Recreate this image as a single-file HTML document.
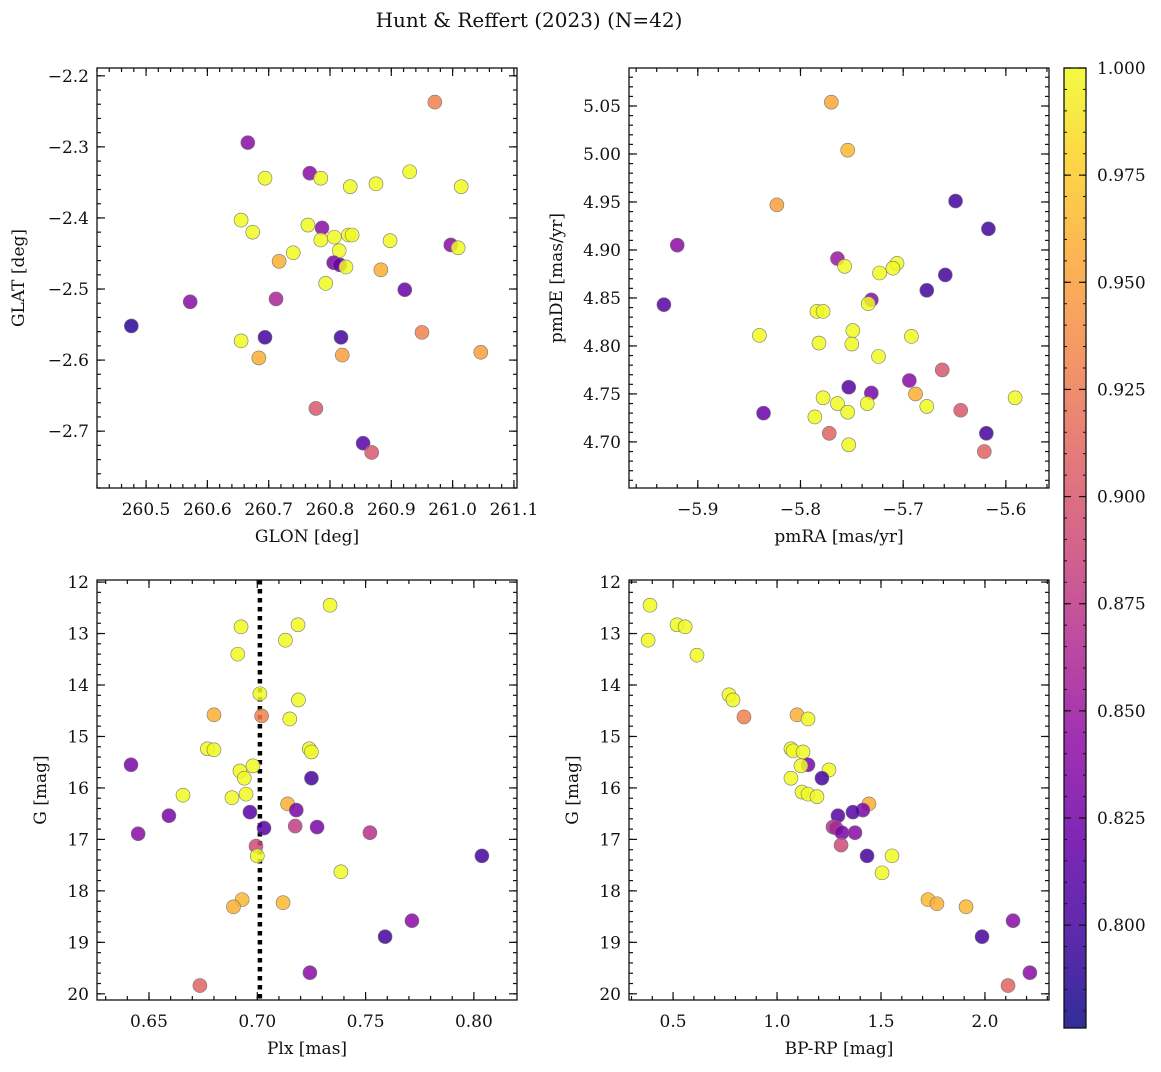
<!DOCTYPE html>
<html><head><meta charset="utf-8">
<style>
html,body{margin:0;padding:0;background:#fff;}
svg text{font-family:"DejaVu Serif","Liberation Serif",serif;fill:#111;}
</style></head>
<body>
<svg id="fig" width="1161" height="1067" viewBox="0 0 1161 1067" xmlns="http://www.w3.org/2000/svg">
<text x="529" y="27" font-size="20" text-anchor="middle">Hunt &amp; Reffert (2023) (N=42)</text>
</svg>
<script>
// ---- data ----
const p1Glon=[260.971,260.666,260.694,260.767,260.785,260.833,260.875,260.930,261.014,260.655,260.674,260.764,260.787,260.785,260.740,260.717,260.807,260.830,260.836,260.815,260.806,260.816,260.826,260.898,260.883,260.793,260.997,261.009,260.922,260.572,260.712,260.476,260.655,260.694,260.818,260.684,260.820,260.950,261.046,260.777,260.854,260.868];
const p1Glat=[-2.237,-2.294,-2.344,-2.337,-2.344,-2.356,-2.352,-2.335,-2.356,-2.403,-2.420,-2.410,-2.414,-2.431,-2.449,-2.461,-2.427,-2.424,-2.424,-2.446,-2.463,-2.466,-2.469,-2.432,-2.473,-2.492,-2.438,-2.442,-2.501,-2.518,-2.514,-2.552,-2.573,-2.568,-2.568,-2.597,-2.593,-2.561,-2.589,-2.668,-2.717,-2.730];
const p1Prob=[0.93,0.84,1,0.84,1,1,1,1,1,1,1,1,0.84,1,1,0.96,1,1,1,1,0.83,0.82,1,1,0.96,1,0.84,1,0.82,0.84,0.86,0.79,1,0.80,0.80,0.96,0.95,0.93,0.95,0.90,0.81,0.90];

const p2PmRA=[-5.770,-5.754,-5.823,-5.920,-5.649,-5.617,-5.764,-5.757,-5.706,-5.710,-5.723,-5.659,-5.933,-5.731,-5.734,-5.677,-5.784,-5.778,-5.840,-5.749,-5.692,-5.782,-5.750,-5.724,-5.662,-5.694,-5.753,-5.731,-5.688,-5.778,-5.764,-5.735,-5.677,-5.591,-5.836,-5.786,-5.754,-5.644,-5.772,-5.753,-5.619,-5.621];
const p2PmDE=[5.054,5.004,4.947,4.905,4.951,4.922,4.891,4.883,4.886,4.881,4.876,4.874,4.843,4.848,4.844,4.858,4.836,4.836,4.811,4.816,4.810,4.803,4.802,4.789,4.775,4.764,4.757,4.751,4.750,4.746,4.740,4.740,4.737,4.746,4.730,4.726,4.731,4.733,4.709,4.697,4.709,4.690];
const p2Prob=[0.955,0.965,0.95,0.84,0.80,0.80,0.85,1,1,1,1,0.80,0.81,0.84,1,0.80,1,1,1,1,1,1,1,1,0.90,0.84,0.81,0.83,0.96,1,1,1,1,1,0.82,1,1,0.90,0.91,1,0.80,0.91];

const p3Plx=[0.7336,0.6925,0.7188,0.713,0.691,0.7012,0.719,0.680,0.702,0.715,0.677,0.680,0.724,0.725,0.6417,0.698,0.692,0.694,0.725,0.6657,0.6948,0.6883,0.6592,0.714,0.6966,0.718,0.645,0.7031,0.7175,0.7276,0.752,0.6994,0.700,0.8037,0.7386,0.693,0.689,0.7119,0.7714,0.759,0.7243,0.6735];
const p3G=[12.45,12.87,12.83,13.13,13.40,14.17,14.29,14.58,14.60,14.66,15.24,15.26,15.24,15.30,15.55,15.57,15.67,15.81,15.81,16.14,16.12,16.19,16.54,16.31,16.47,16.43,16.89,16.78,16.74,16.76,16.87,17.13,17.32,17.32,17.63,18.17,18.31,18.23,18.58,18.89,19.59,19.84];
const p3Prob=[1,1,1,1,1,1,1,0.96,0.93,1,1,1,1,1,0.83,1,1,1,0.80,1,1,1,0.83,0.96,0.81,0.83,0.84,0.81,0.88,0.83,0.87,0.89,1,0.80,1,0.965,0.96,0.965,0.84,0.80,0.84,0.91];

const p4BpRp=[0.389,0.380,0.519,0.558,0.615,0.769,0.788,0.841,1.096,1.149,1.067,1.077,1.125,1.149,1.115,1.25,1.067,1.216,1.12,1.149,1.192,1.442,1.413,1.365,1.293,1.269,1.284,1.312,1.375,1.308,1.433,1.553,1.505,1.726,1.769,1.909,2.135,1.986,2.216,2.111];
const p4G=[12.45,13.13,12.83,12.87,13.42,14.19,14.29,14.62,14.58,14.66,15.24,15.28,15.30,15.55,15.57,15.65,15.81,15.81,16.08,16.12,16.17,16.31,16.43,16.47,16.54,16.76,16.78,16.87,16.87,17.11,17.32,17.32,17.65,18.17,18.25,18.31,18.58,18.89,19.59,19.84];
const p4Prob=[1,1,1,1,1,1,1,0.93,0.96,1,1,1,1,0.83,1,1,1,0.80,1,1,1,0.96,0.83,0.81,0.81,0.87,0.86,0.83,0.84,0.89,0.80,1,1,0.965,0.96,0.965,0.84,0.80,0.84,0.91];

const cbTicks=[0.800,0.825,0.850,0.875,0.900,0.925,0.950,0.975,1.000];
const plxLine=0.7012;
const vmin=0.776, vmax=1.0;

// ---- helpers ----
const NS="http://www.w3.org/2000/svg";
const svg=document.getElementById('fig');
function mk(tag,attrs,parent){const e=document.createElementNS(NS,tag);for(const k in attrs)e.setAttribute(k,attrs[k]);(parent||svg).appendChild(e);return e;}
const plasma=[[13,8,135],[65,4,157],[106,0,168],[143,13,164],[177,42,144],[204,71,120],[225,100,98],[242,132,75],[252,166,54],[252,206,37],[240,249,33]];
function cmap(v){let t=(v-vmin)/(vmax-vmin);t=Math.max(0,Math.min(1,t))*10;const i=Math.min(9,Math.floor(t)),f=t-i;const a=plasma[i],b=plasma[i+1];return `rgb(${Math.round(a[0]+(b[0]-a[0])*f)},${Math.round(a[1]+(b[1]-a[1])*f)},${Math.round(a[2]+(b[2]-a[2])*f)})`;}
function fmt(v,d){let s=v.toFixed(d);return s.replace('-','\u2212');}

function panel(o){
  const g=mk('g',{});
  
  
  const sx=v=>o.x0+(v-o.xmin)/(o.xmax-o.xmin)*(o.x1-o.x0);
  const sy=v=>o.yinv? o.y0+(v-o.ymin)/(o.ymax-o.ymin)*(o.y1-o.y0) : o.y1-(v-o.ymin)/(o.ymax-o.ymin)*(o.y1-o.y0);
  const tg=mk('g',{stroke:'#111','stroke-width':1.2},g);
  function xt(v,len){const x=sx(v);if(x<o.x0-0.5||x>o.x1+0.5)return;mk('line',{x1:x,x2:x,y1:o.y1,y2:o.y1-len},tg);mk('line',{x1:x,x2:x,y1:o.y0,y2:o.y0+len},tg);}
  function yt(v,len){const y=sy(v);if(y<o.y0-0.5||y>o.y1+0.5)return;mk('line',{x1:o.x0,x2:o.x0+len,y1:y,y2:y},tg);mk('line',{x1:o.x1,x2:o.x1-len,y1:y,y2:y},tg);}
  const lo=Math.min(o.xmin,o.xmax),hi=Math.max(o.xmin,o.xmax);
  for(let v=Math.ceil(lo/o.xminor-1e-6)*o.xminor;v<=hi;v+=o.xminor)xt(v,4);
  for(let v=Math.ceil(o.ymin/o.yminor-1e-6)*o.yminor;v<=o.ymax;v+=o.yminor)yt(v,4);
  o.xticks.forEach(v=>{xt(v,8);const t=mk('text',{x:sx(v),y:o.y1+27,'font-size':17,'text-anchor':'middle'},g);t.textContent=fmt(v,o.xd);});
  o.yticks.forEach(v=>{yt(v,8);const t=mk('text',{x:o.x0-8,y:sy(v)+6,'font-size':17,'text-anchor':'end'},g);t.textContent=fmt(v,o.yd);});
  const xl=mk('text',{x:(o.x0+o.x1)/2,y:o.y1+54,'font-size':17,'text-anchor':'middle'},g);xl.textContent=o.xlabel;
  
  const yx=o.ylx, yy=(o.y0+o.y1)/2;
  const yl=mk('text',{x:yx,y:yy,'font-size':17,'text-anchor':'middle',transform:`rotate(-90 ${yx} ${yy})`},g);yl.textContent=o.ylabel;
  
  if(o.vline!==undefined){const l=mk('line',{x1:sx(o.vline),x2:sx(o.vline),y1:o.y0,y2:o.y1,stroke:'#000','stroke-width':4.5,'stroke-dasharray':'4.5,4.5'},g);}
  o.xs.forEach((xv,i)=>{
    const c=mk('circle',{cx:sx(xv),cy:sy(o.ys[i]),r:7,fill:cmap(o.cs[i]),'fill-opacity':0.85,stroke:'#777','stroke-width':0.6},g);
    
    
  });
  const fr=mk('rect',{x:o.x0,y:o.y0,width:o.x1-o.x0,height:o.y1-o.y0,fill:'none',stroke:'#111','stroke-width':1.3},g);
  
}
function range(a,b,s){const r=[];for(let v=a;v<=b+1e-9;v+=s)r.push(+v.toFixed(4));return r;}

panel({name:'glon-glat-panel',x0:97,x1:517,y0:68,y1:488,xmin:260.42,xmax:261.105,ymin:-2.78,ymax:-2.189,
  xticks:range(260.5,261.1,0.1),yticks:range(-2.7,-2.2,0.1),xminor:0.02,yminor:0.02,xd:1,yd:1,
  xlabel:'GLON [deg]',ylabel:'GLAT [deg]',ylx:24,xs:p1Glon,ys:p1Glat,cs:p1Prob});
panel({name:'proper-motion-panel',x0:629,x1:1049,y0:68,y1:488,xmin:-5.967,xmax:-5.558,ymin:4.652,ymax:5.0896,
  xticks:[-5.9,-5.8,-5.7,-5.6],yticks:range(4.70,5.05,0.05),xminor:0.02,yminor:0.01,xd:1,yd:2,
  xlabel:'pmRA [mas/yr]',ylabel:'pmDE [mas/yr]',ylx:562,xs:p2PmRA,ys:p2PmDE,cs:p2Prob});
panel({name:'parallax-mag-panel',x0:97,x1:517,y0:580,y1:1000,xmin:0.626,xmax:0.8199,ymin:11.96,ymax:20.12,yinv:true,
  xticks:[0.65,0.70,0.75,0.80],yticks:range(12,20,1),xminor:0.01,yminor:0.2,xd:2,yd:0,
  xlabel:'Plx [mas]',ylabel:'G [mag]',ylx:46,xs:p3Plx,ys:p3G,cs:p3Prob,vline:plxLine});
panel({name:'cmd-panel',x0:629,x1:1049,y0:580,y1:1000,xmin:0.288,xmax:2.308,ymin:11.96,ymax:20.12,yinv:true,
  xticks:[0.5,1.0,1.5,2.0],yticks:range(12,20,1),xminor:0.1,yminor:0.2,xd:1,yd:0,
  xlabel:'BP-RP [mag]',ylabel:'G [mag]',ylx:578,xs:p4BpRp,ys:p4G,cs:p4Prob});

// colorbar
(function(){
  const x0=1064,x1=1086,y0=68,y1=1028;
  const g=mk('g',{});
  
  
  const defs=mk('defs',{},g);
  const lg=mk('linearGradient',{id:'cbg',x1:0,y1:1,x2:0,y2:0},defs);
  for(let i=0;i<=20;i++){mk('stop',{offset:i/20,'stop-color':cmap(vmin+(vmax-vmin)*i/20),'stop-opacity':0.85},lg);}
  mk('rect',{x:x0,y:y0,width:x1-x0,height:y1-y0,fill:'url(#cbg)'},g);
  const sy=v=>y1-(v-vmin)/(vmax-vmin)*(y1-y0);
  for(let v=0.78;v<=1.0001;v+=0.005){const y=sy(v);if(y<y0||y>y1)continue;mk('line',{x1:x1,x2:x1-3,y1:y,y2:y,stroke:'#111','stroke-width':1},g);mk('line',{x1:x0,x2:x0+3,y1:y,y2:y,stroke:'#111','stroke-width':1},g);}
  cbTicks.forEach(v=>{const y=sy(v);mk('line',{x1:x1,x2:x1-7,y1:y,y2:y,stroke:'#111','stroke-width':1.2},g);mk('line',{x1:x0,x2:x0+7,y1:y,y2:y,stroke:'#111','stroke-width':1.2},g);
    const t=mk('text',{x:x1+11,y:y+6,'font-size':17},g);t.textContent=v.toFixed(3);});
  mk('rect',{x:x0,y:y0,width:x1-x0,height:y1-y0,fill:'none',stroke:'#111','stroke-width':1.3},g);
})();
</script>
</body></html>
